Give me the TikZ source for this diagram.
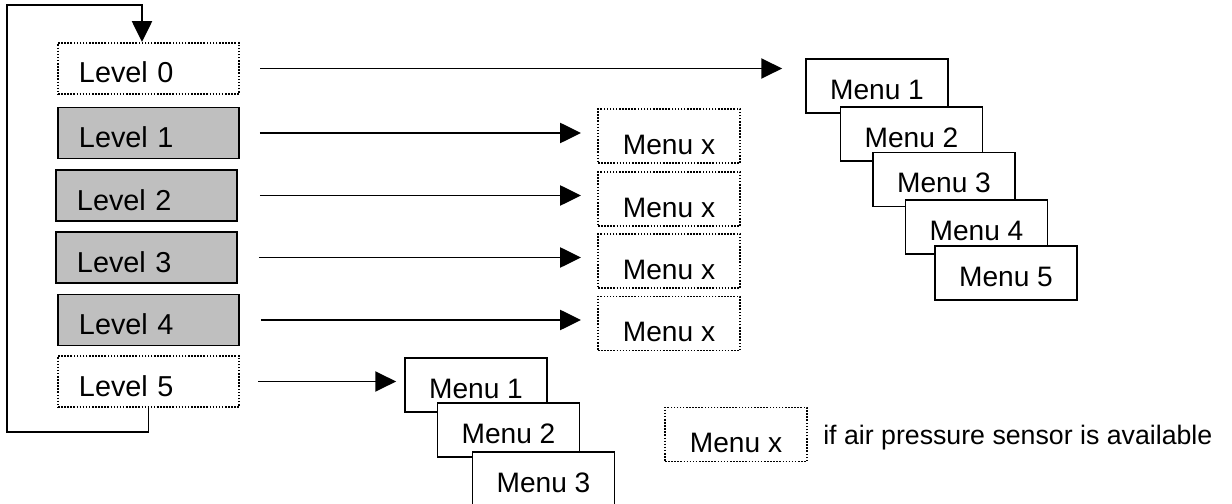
\documentclass[tikz,border=0pt]{standalone}
\usepackage{fontspec}
\setmainfont{Liberation Sans}
\usetikzlibrary{calc,arrows.meta}

\tikzset{
  lvl/.style={draw, line width=1.2pt, fill=gray!50, minimum height=1.275cm,
    text width=3.475cm, inner xsep=0.525cm, inner ysep=0pt, align=left,
    text height=0.725cm, text depth=0pt, font=\fontsize{20.5}{24}\selectfont},
  lvldot/.style={lvl, fill=white, line width=1.4pt, dash pattern=on 1.1pt off 1.1pt},
  menubox/.style={draw, line width=1.2pt, fill=white, minimum width=3.55cm,
    minimum height=1.35cm, inner sep=0pt, text height=0.65cm, text depth=0pt,
    font=\fontsize{20}{24}\selectfont},
  menudot/.style={menubox, line width=1.4pt, dash pattern=on 1.1pt off 1.1pt,
    text height=0.9cm},
  flow/.style={line width=1.4pt, -{Triangle[length=0.52cm,width=0.5cm]}}
}

\begin{document}
\begin{tikzpicture}[x=0.025cm,y=-0.025cm]
\useasboundingbox (0,0) rectangle (1232,504);

% levels
\node[lvldot] (L0) at (148.5,68.5) {Level 0};
\node[lvl] (L1) at (148.5,133) {Level 1};
\node[lvl] (L2) at (146.5,195.5) {Level 2};
\node[lvl] (L3) at (146.5,257.5) {Level 3};
\node[lvl] (L4) at (148.5,320) {Level 4};
\node[lvldot] (L5) at (148.5,381.5) {Level 5};

% menus
\node[menudot] (X1) at (669,136) {Menu x};
\node[menudot] (X2) at (669,199) {Menu x};
\node[menudot] (X3) at (669,261) {Menu x};
\node[menudot] (X4) at (669,323.5) {Menu x};

\node[menubox] (A1) at (877,86) {Menu 1};
\node[menubox] (A2) at (911.5,134) {Menu 2};
\node[menubox] (A3) at (944,179.5) {Menu 3};
\node[menubox] (A4) at (976.5,227) {Menu 4};
\node[menubox] (A5) at (1006,273) {Menu 5};

\node[menubox] (B1) at (476,385) {Menu 1};
\node[menubox] (B2) at (508.5,430) {Menu 2};
\node[menubox] (B3) at (543.5,479) {Menu 3};

% key
\node[menudot] (key) at (736,434.5) {Menu x};
\node[anchor=base west, inner sep=0pt, font=\fontsize{19}{23}\selectfont]
  (keytext) at (823,445) {if air pressure sensor is available};

% arrows
\draw[flow] ($(L0.east)+(20,0)$) -- ($(L0.east -| A1.west)+(-23,0)$);
\draw[flow] ($(L1.east)+(20,0)$) -- ($(L1.east -| X1.west)+(-16,0)$);
\draw[flow] ($(L2.east)+(22,0)$) -- ($(L2.east -| X2.west)+(-16,0)$);
\draw[flow] ($(L3.east)+(21,0)$) -- ($(L3.east -| X3.west)+(-16,0)$);
\draw[flow] ($(L4.east)+(21,0)$) -- ($(L4.east -| X4.west)+(-16,0)$);
\draw[flow] ($(L5.east)+(18,0)$) -- ($(L5.east -| B1.west)+(-8,0)$);

% back to level 0
\coordinate (loopB) at (7,432);
\coordinate (loopT) at (142,5);
\draw[flow] (L5.south) |- (loopB) |- (loopT) -- (loopT |- L0.north);

\end{tikzpicture}
\end{document}
